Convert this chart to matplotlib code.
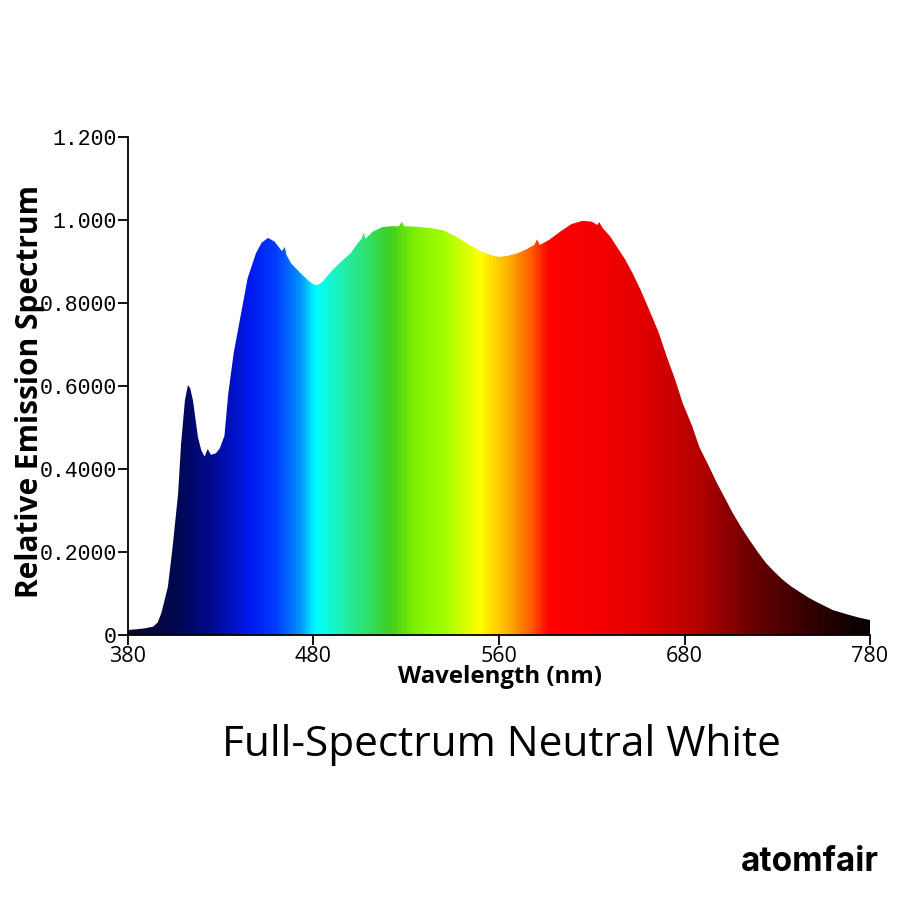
import matplotlib
matplotlib.use("Agg")
import matplotlib.pyplot as plt
import numpy as np
from matplotlib.colors import LinearSegmentedColormap

# spectrum
wavelength = [380, 385, 389, 393.5, 396, 398, 401.5, 404, 407, 408.6, 410.7, 412.3, 413.5,
              415, 417.7, 419.5, 421.3, 422.2, 423, 424.7, 427.4, 429.5, 432, 434, 437,
              441, 444.5, 449, 452, 455.5, 459, 463, 464.5, 465.5, 468, 473, 477, 479, 481,
              483, 485, 490, 495, 500, 504, 506, 507, 508, 512, 517, 522, 526, 527.5, 529,
              535, 544, 550, 557, 564, 571, 576, 580, 585, 590, 595, 599, 600.5, 602, 607,
              613, 619, 625, 630, 633, 634, 636, 640, 643.6, 648, 652, 656.5, 661, 666,
              670.5, 675, 679, 684, 688, 693, 697.5, 702, 706, 710.5, 715, 719.5, 724, 728.5,
              733, 737.5, 742, 746.5, 751, 755.5, 760, 764.5, 769, 774, 780]
intensity = [0.012, 0.014, 0.016, 0.02, 0.03, 0.053, 0.116, 0.21, 0.34, 0.46, 0.566, 0.602,
             0.595, 0.566, 0.477, 0.445, 0.43, 0.44, 0.448, 0.434, 0.438, 0.45, 0.48, 0.58,
             0.68, 0.776, 0.86, 0.92, 0.945, 0.957, 0.948, 0.925, 0.935, 0.915, 0.895, 0.872,
             0.855, 0.848, 0.843, 0.845, 0.852, 0.878, 0.90, 0.92, 0.945, 0.955, 0.97, 0.955,
             0.972, 0.983, 0.985, 0.985, 0.995, 0.985, 0.984, 0.98, 0.975, 0.96, 0.94, 0.923,
             0.915, 0.911, 0.914, 0.92, 0.93, 0.94, 0.953, 0.94, 0.952, 0.972, 0.99, 0.998,
             0.996, 0.988, 0.995, 0.98, 0.96, 0.935, 0.905, 0.872, 0.83, 0.783, 0.73, 0.67,
             0.615, 0.559, 0.505, 0.453, 0.408, 0.366, 0.328, 0.294, 0.26, 0.229, 0.2, 0.173,
             0.152, 0.133, 0.117, 0.104, 0.091, 0.08, 0.07, 0.06, 0.054, 0.048, 0.042, 0.036]

# colour of the fill along the wavelength axis
grad_nm = [380, 405, 425, 445, 460, 472, 481, 495, 508, 521, 535, 550, 570, 585, 597,
           607, 640, 660, 690, 715, 740, 765, 780]
grad_col = ['#0a0a28', '#000850', '#000a90', '#0018ef', '#0040ff', '#0090ff', '#00ffff',
            '#20f0b0', '#30e070', '#40d020', '#80f000', '#a0ff00', '#ffff00', '#ffb000',
            '#ff6000', '#ff0000', '#f00000', '#e00000', '#b00000', '#700000', '#400000',
            '#1a0000', '#080000']

xticks = [380, 480, 580, 680, 780]
xtick_labels = ['380', '480', '560', '680', '780']
yticks = [0, 0.2, 0.4, 0.6, 0.8, 1.0, 1.2]
ytick_labels = ['0', '0.2000', '0.4000', '0.6000', '0.8000', '1.000', '1.200']

fig = plt.figure(figsize=(9, 9), dpi=100)
ax = fig.add_axes([128/900, 1-635/900, 742/900, 498/900])

pos = [(n - 380) / 400 for n in grad_nm]
cmap = LinearSegmentedColormap.from_list('spec', list(zip(pos, grad_col)))

poly = ax.fill_between(wavelength, intensity, 0, color='none', lw=0)
grad = np.linspace(380, 780, 1000).reshape(1, -1)
im = ax.imshow(grad, extent=[380, 780, 0, 1.2], aspect='auto', cmap=cmap,
               vmin=380, vmax=780, origin='lower')
path = poly.get_paths()[0]
im.set_clip_path(path, transform=ax.transData)

ax.set_xlim(380, 780)
ax.set_ylim(0, 1.2)
ax.set_xticks(xticks)
ax.set_xticklabels(xtick_labels, fontsize=15.5, family='Open Sans')
ax.set_yticks(yticks)
ax.set_yticklabels(ytick_labels, fontsize=15.5, family='Liberation Mono')
ax.tick_params(length=7, width=1.3, pad=1)
ax.spines['top'].set_visible(False)
ax.spines['right'].set_visible(False)
ax.spines['left'].set_linewidth(1.3)
ax.spines['bottom'].set_linewidth(1.3)

fig.text(30/900, 1-392/900, 'Relative Emission Spectrum', rotation=90, ha='center',
         va='center', fontsize=21.5, fontweight='bold', family='Open Sans')
fig.text(500/900, 1-677/900, 'Wavelength (nm)', ha='center', va='center',
         fontsize=17.3, fontweight='bold', family='Open Sans')
fig.text(501/900, 1-745/900, 'Full-Spectrum Neutral White', ha='center', va='center',
         fontsize=30.5, family='Open Sans')
fig.text(810/900, 1-862/900, 'atomfair', ha='center', va='center',
         fontsize=24, fontweight='bold', family='Inter')

fig.savefig('out.png', dpi=100)
